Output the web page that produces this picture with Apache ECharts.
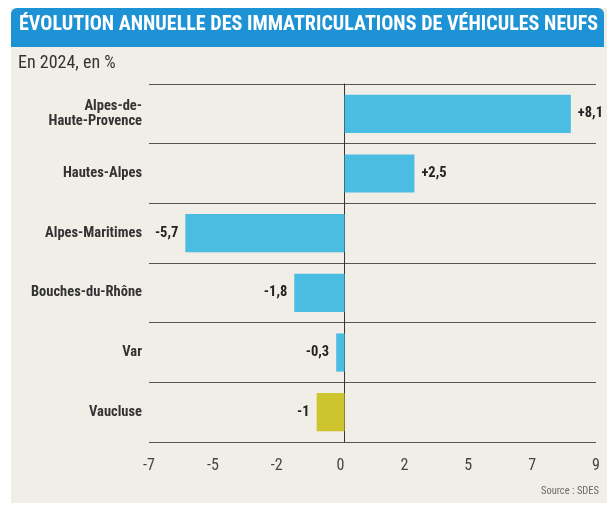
<!DOCTYPE html>
<html><head><meta charset="utf-8">
<script src="https://cdn.jsdelivr.net/npm/echarts@6/dist/echarts.min.js"></script>
<style>html,body{margin:0;padding:0;background:#fff;}#c{width:607px;height:505px;}</style>
</head><body><div id="c"></div>
<script>
var categories = ["Alpes-de-\nHaute-Provence", "Hautes-Alpes", "Alpes-Maritimes", "Bouches-du-Rhône", "Var", "Vaucluse"];
var values = [8.1, 2.5, -5.7, -1.8, -0.3, -1];
var barColors = ["#4bbde3", "#4bbde3", "#4bbde3", "#4bbde3", "#4bbde3", "#cdc42e"];
var tickLabels = ["-7", "-5", "-2", "0", "2", "5", "7", "9"];
var titleText = "ÉVOLUTION ANNUELLE DES IMMATRICULATIONS DE VÉHICULES NEUFS";
var subtitleText = "En 2024, en %";
var sourceText = "Source : SDES";

var FONT = '"Roboto Condensed", "Open Sans Condensed", sans-serif';
// fit title font size to the banner width
var mctx = document.createElement('canvas').getContext('2d');
mctx.font = 'bold 20px ' + FONT;
var titleSize = Math.min(22, 20 * 580 / mctx.measureText(titleText).width);

var chart = echarts.init(document.getElementById('c'));
function fmt(v) { return (v > 0 ? '+' : '') + String(v).replace('.', ','); }

chart.setOption({
  backgroundColor: '#ffffff',
  animation: false,
  graphic: [
    { type: 'rect', shape: { x: 11, y: 8, width: 596, height: 495 }, style: { fill: '#f1eee8' }, z: -10 },
    { type: 'rect', shape: { x: 11, y: 8, width: 593, height: 39, r: [6, 6, 0, 0] }, style: { fill: '#1d92d4' }, z: -5 },
    { type: 'text', left: 19, top: 27 - titleSize * 0.6, style: { text: titleText, fill: '#ffffff', font: 'bold ' + titleSize.toFixed(1) + 'px ' + FONT } },
    { type: 'text', left: 18, top: 54, style: { text: subtitleText, fill: '#333333', font: '18px ' + FONT } },
    { type: 'text', right: 8, top: 486, style: { text: sourceText, fill: '#6a6a6a', font: '10.5px ' + FONT } }
  ],
  grid: { left: 149, right: 11, top: 84, bottom: 63, containLabel: false },
  xAxis: {
    type: 'value', min: -7, max: 9, interval: 16 / 7,
    axisLine: { show: false }, axisTick: { show: false }, splitLine: { show: false },
    axisLabel: {
      margin: 16, color: '#444444', fontSize: 16, fontFamily: FONT,
      formatter: function (v, i) { return tickLabels[i] !== undefined ? tickLabels[i] : ''; }
    }
  },
  yAxis: {
    type: 'category', data: categories, inverse: true,
    axisLine: { show: true, onZero: true, lineStyle: { color: '#333333', width: 1 } },
    axisTick: { show: false },
    splitLine: { show: true, lineStyle: { color: '#555555', width: 1 } },
    axisLabel: {
      margin: 7, color: '#333333', fontSize: 14.5, fontWeight: 'bold', fontFamily: FONT,
      lineHeight: 15, align: 'right'
    }
  },
  series: [{
    type: 'bar', barWidth: '64%',
    data: values.map(function (v, i) {
      return {
        value: v,
        itemStyle: { color: barColors[i] },
        label: { position: v >= 0 ? 'right' : 'left' }
      };
    }),
    label: {
      show: true, distance: 7, color: '#222222', fontSize: 14.5, fontWeight: 'bold', fontFamily: FONT,
      formatter: function (p) { return fmt(p.value); }
    }
  }]
});
</script></body></html>
